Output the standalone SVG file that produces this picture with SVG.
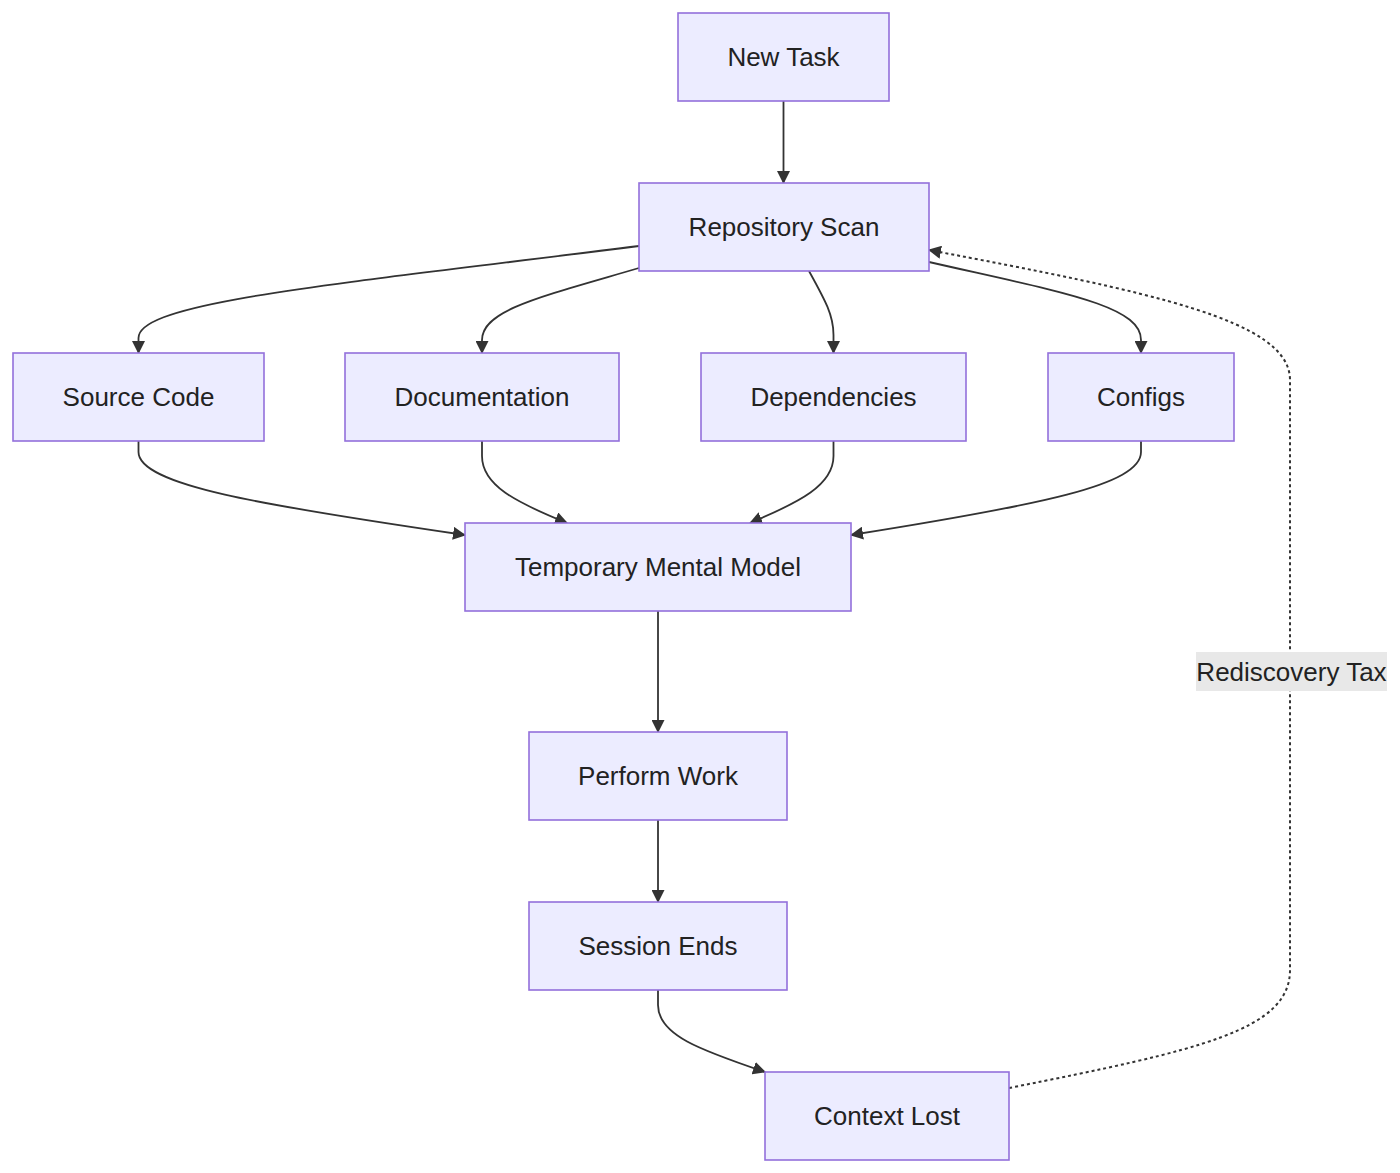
<svg xmlns="http://www.w3.org/2000/svg" width="1400" height="1173" viewBox="0 0 1400 1173">
<style>
.node rect{fill:#ECECFF;stroke:#9370DB;stroke-width:1.6}
.node text,.lbl text{font-family:"Liberation Sans",Arial,sans-serif;font-size:26px;fill:#222;text-anchor:middle;dominant-baseline:central}
.edge{fill:none;stroke:#333;stroke-width:1.8}
.dot{stroke-dasharray:3 3;stroke-width:2}
</style>
<defs>
<marker id="ah" markerWidth="13" markerHeight="13" refX="12" refY="6.5" orient="auto" markerUnits="userSpaceOnUse" viewBox="0 0 13 13">
<path d="M0,0 L13,6.5 L0,13 z" fill="#333"/>
</marker>
</defs>
<rect width="1400" height="1173" fill="#fff"/>
<g id="connectors">
<path class="edge" d="M783.5,101 L783.5,183" marker-end="url(#ah)"/>
<path class="edge" d="M639,246 C330,285 138.5,302 138.5,338 L138.5,353" marker-end="url(#ah)"/>
<path class="edge" d="M639,268 C540,297 482,310 482,340 L482,353" marker-end="url(#ah)"/>
<path class="edge" d="M809,271 C825,300 833.5,315 833.5,335 L833.5,353" marker-end="url(#ah)"/>
<path class="edge" d="M929,262 C1060,292 1141,305 1141,340 L1141,353" marker-end="url(#ah)"/>
<path class="edge" d="M138.5,441 L138.5,452 C138.5,485 260,505 465,535" marker-end="url(#ah)"/>
<path class="edge" d="M482,441 L482,456 C482,485 515,502 567,523" marker-end="url(#ah)"/>
<path class="edge" d="M833.5,441 L833.5,456 C833.5,485 800,502 750,523" marker-end="url(#ah)"/>
<path class="edge" d="M1141,441 L1141,452 C1141,485 1040,505 851,535" marker-end="url(#ah)"/>
<path class="edge" d="M658,611 L658,732" marker-end="url(#ah)"/>
<path class="edge" d="M658,820 L658,902" marker-end="url(#ah)"/>
<path class="edge" d="M658,990 L658,1005 C658,1035 700,1050 765,1072" marker-end="url(#ah)"/>
<path class="edge dot" d="M1009,1088 C1200,1050 1290,1030 1290,970 L1290,380 C1290,320 1150,292 929,250" marker-end="url(#ah)"/>
<g class="lbl">
<rect x="1196" y="652" width="191" height="39" fill="#e8e8e8"/>
<text x="1291.5" y="671.5">Rediscovery Tax</text>
</g>
</g>
<g id="newtask" class="node"><rect x="678" y="13" width="211" height="88"/><text x="783.5" y="57">New Task</text></g>
<g id="reposcan" class="node"><rect x="639" y="183" width="290" height="88"/><text x="784" y="227">Repository Scan</text></g>
<g id="source" class="node"><rect x="13" y="353" width="251" height="88"/><text x="138.5" y="397">Source Code</text></g>
<g id="docs" class="node"><rect x="345" y="353" width="274" height="88"/><text x="482" y="397">Documentation</text></g>
<g id="deps" class="node"><rect x="701" y="353" width="265" height="88"/><text x="833.5" y="397">Dependencies</text></g>
<g id="configs" class="node"><rect x="1048" y="353" width="186" height="88"/><text x="1141" y="397">Configs</text></g>
<g id="tmm" class="node"><rect x="465" y="523" width="386" height="88"/><text x="658" y="567">Temporary Mental Model</text></g>
<g id="work" class="node"><rect x="529" y="732" width="258" height="88"/><text x="658" y="776">Perform Work</text></g>
<g id="ends" class="node"><rect x="529" y="902" width="258" height="88"/><text x="658" y="946">Session Ends</text></g>
<g id="lost" class="node"><rect x="765" y="1072" width="244" height="88"/><text x="887" y="1116">Context Lost</text></g>
</svg>
